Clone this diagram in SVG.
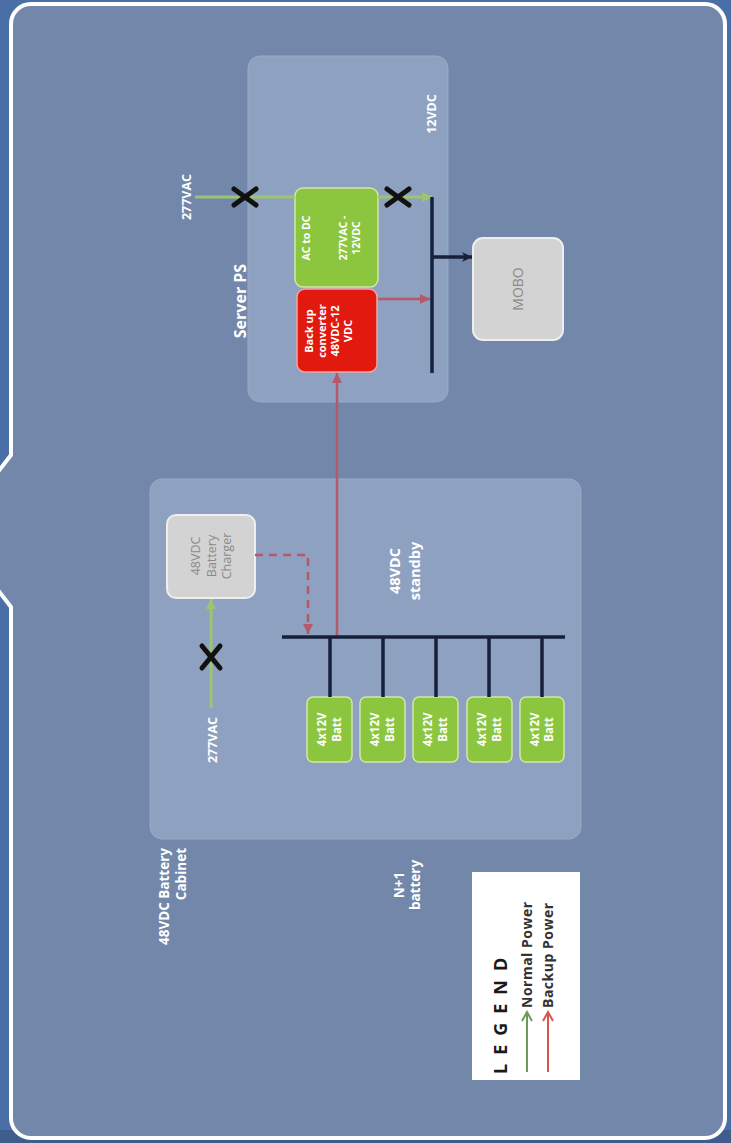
<svg xmlns="http://www.w3.org/2000/svg" width="731" height="1143" viewBox="0 0 731 1143">
<defs>
<style>
.t{font-family:"Open Sans","Liberation Sans",sans-serif;font-weight:bold;fill:#ffffff}
.g{font-family:"Open Sans","Liberation Sans",sans-serif;fill:#8a8a8a}
.panel{fill:#8fa1c1;stroke:#98aac8;stroke-width:1}
.grn{fill:#8cc63f;stroke:#cfe8a8;stroke-width:1.5}
.gray{fill:#d3d3d3;stroke:#eeeeee;stroke-width:2}
.bus{stroke:#17203a;stroke-width:3.5;fill:none}
.xm{stroke:#111111;stroke-width:5;fill:none;stroke-linecap:round}
.norm{stroke:#9ccc65;stroke-width:3;fill:none;opacity:0.9}
.back{stroke:#b35a6a;stroke-width:2.5;fill:none}
</style>
<marker id="ab" markerUnits="userSpaceOnUse" markerWidth="12" markerHeight="12" refX="10" refY="6" orient="auto"><path d="M0,1 L10,6 L0,11 L3,6 Z" fill="#17203a"/></marker>
<marker id="ag" markerUnits="userSpaceOnUse" markerWidth="12" markerHeight="12" refX="10" refY="6" orient="auto"><path d="M0,1 L10,6 L0,11 Z" fill="#9ccc65"/></marker>
<marker id="ar" markerUnits="userSpaceOnUse" markerWidth="12" markerHeight="12" refX="10" refY="6" orient="auto"><path d="M0,1 L10,6 L0,11 Z" fill="#b35a6a"/></marker>
<marker id="lg" markerUnits="userSpaceOnUse" markerWidth="12" markerHeight="12" refX="10" refY="6" orient="auto"><path d="M1,1 L10,6 L1,11" fill="none" stroke="#6f9a5a" stroke-width="2"/></marker>
<marker id="lr" markerUnits="userSpaceOnUse" markerWidth="12" markerHeight="12" refX="10" refY="6" orient="auto"><path d="M1,1 L10,6 L1,11" fill="none" stroke="#d9534f" stroke-width="2"/></marker>
</defs>
<rect x="0" y="0" width="731" height="1143" fill="#4a6fa6"/>
<rect x="0" y="1130" width="731" height="13" fill="#3e5d8c"/>
<path d="M31,4 L705,4 A20,20 0 0 1 725,24 L725,1118 A20,20 0 0 1 705,1138 L31,1138 A20,20 0 0 1 11,1118 L11,607 L-6,585 L-6,477 L11,455 L11,24 A20,20 0 0 1 31,4 Z" fill="#7287aa" stroke="#ffffff" stroke-width="4"/>

<g id="server-ps">
<rect class="panel" x="248" y="56" width="200" height="346" rx="12"/>
<text class="t" font-size="16" transform="translate(240,301) rotate(-90)" text-anchor="middle" y="5.5">Server PS</text>
<text class="t" font-size="12.5" transform="translate(431,114) rotate(-90)" text-anchor="middle" y="4.5">12VDC</text>
</g>
<g id="ac-dc">
<rect class="grn" x="295" y="188" width="83" height="99" rx="8"/>
<text class="t" font-size="10.5" font-weight="normal" transform="translate(336,238) rotate(-90)" text-anchor="middle"><tspan x="0" y="-26">AC to DC</tspan><tspan x="0" y="11">277VAC -</tspan><tspan x="0" y="24">12VDC</tspan></text>
</g>
<g id="backup-converter">
<rect x="297" y="289" width="80" height="83" rx="8" fill="#e2190e" stroke="#f3a6a0" stroke-width="1.5"/>
<text class="t" font-size="11" transform="translate(337,331) rotate(-90)" text-anchor="middle"><tspan x="0" y="-24">Back up</tspan><tspan x="0" y="-11">converter</tspan><tspan x="0" y="2">48VDC-12</tspan><tspan x="0" y="15">VDC</tspan></text>
</g>
<g id="mobo">
<rect class="gray" x="473" y="238" width="90" height="102" rx="10"/>
<text class="g" font-size="14" transform="translate(518,289) rotate(-90)" text-anchor="middle" y="5">MOBO</text>
</g>
<g id="ac-in-server">
<text class="t" font-size="12.5" transform="translate(186,197) rotate(-90)" text-anchor="middle" y="4.5">277VAC</text>
</g>

<g id="battery-cabinet">
<rect class="panel" x="150" y="479" width="431" height="360" rx="12"/>
<text class="t" font-size="13.5" transform="translate(173,848) rotate(-90)" text-anchor="end"><tspan x="0" y="-4">48VDC Battery</tspan><tspan x="0" y="13">Cabinet</tspan></text>
<text class="t" font-size="14.5" transform="translate(405,571) rotate(-90)" text-anchor="middle"><tspan x="0" y="-5">48VDC</tspan><tspan x="0" y="15">standby</tspan></text>
</g>
<g id="charger">
<rect class="gray" x="167" y="515" width="88" height="83" rx="9"/>
<text class="g" font-size="12.5" transform="translate(211,556) rotate(-90)" text-anchor="middle"><tspan x="0" y="-11">48VDC</tspan><tspan x="0" y="4.5">Battery</tspan><tspan x="0" y="20">Charger</tspan></text>
</g>
<g id="ac-in-cabinet">
<text class="t" font-size="12.5" transform="translate(212,740) rotate(-90)" text-anchor="middle" y="4.5">277VAC</text>
</g>
<g id="batt1"><rect class="grn" x="307" y="697" width="45" height="65" rx="6"/><text class="t" font-size="11.5" transform="translate(329.5,729.5) rotate(-90)" text-anchor="middle"><tspan x="0" y="-3.5">4x12V</tspan><tspan x="0" y="11">Batt</tspan></text></g>
<g id="batt2"><rect class="grn" x="360" y="697" width="45" height="65" rx="6"/><text class="t" font-size="11.5" transform="translate(382.5,729.5) rotate(-90)" text-anchor="middle"><tspan x="0" y="-3.5">4x12V</tspan><tspan x="0" y="11">Batt</tspan></text></g>
<g id="batt3"><rect class="grn" x="413" y="697" width="45" height="65" rx="6"/><text class="t" font-size="11.5" transform="translate(435.5,729.5) rotate(-90)" text-anchor="middle"><tspan x="0" y="-3.5">4x12V</tspan><tspan x="0" y="11">Batt</tspan></text></g>
<g id="batt4"><rect class="grn" x="467" y="697" width="45" height="65" rx="6"/><text class="t" font-size="11.5" transform="translate(489.5,729.5) rotate(-90)" text-anchor="middle"><tspan x="0" y="-3.5">4x12V</tspan><tspan x="0" y="11">Batt</tspan></text></g>
<g id="batt5"><rect class="grn" x="520" y="697" width="44" height="65" rx="6"/><text class="t" font-size="11.5" transform="translate(542,729.5) rotate(-90)" text-anchor="middle"><tspan x="0" y="-3.5">4x12V</tspan><tspan x="0" y="11">Batt</tspan></text></g>
<g id="n1-label">
<text class="t" font-size="13.5" font-weight="normal" transform="translate(407,885) rotate(-90)" text-anchor="middle"><tspan x="0" y="-3.5">N+1</tspan><tspan x="0" y="12.5">battery</tspan></text>
</g>

<g id="connectors">
<line class="norm" x1="195" y1="197" x2="295" y2="197"/>
<line class="norm" x1="378" y1="197" x2="432" y2="197" marker-end="url(#ag)"/>
<path class="bus" d="M432,197 L432,373"/>
<line class="bus" x1="432" y1="257" x2="472" y2="257" stroke-width="3" marker-end="url(#ab)"/>
<line class="back" x1="378" y1="299" x2="430" y2="299" marker-end="url(#ar)"/>
<line class="back" x1="337" y1="637" x2="337" y2="373" marker-end="url(#ar)"/>
<path class="back" d="M255,555 L308,555 L308,634" stroke-dasharray="8,6" marker-end="url(#ar)"/>
<line class="bus" x1="282" y1="637" x2="565" y2="637"/>
<path class="bus" stroke-width="3" d="M330,637 V697 M383,637 V697 M436,637 V697 M489,637 V697 M542,637 V697"/>
<line class="norm" x1="211" y1="708" x2="211" y2="599" marker-end="url(#ag)"/>
<path class="xm" d="M234,189 L256,205 M234,205 L256,189"/>
<path class="xm" d="M387,189 L409,205 M387,205 L409,189"/>
<path class="xm" d="M202,646 L220,668 M220,646 L202,668"/>
</g>

<g id="legend">
<rect x="472" y="872" width="108" height="208" fill="#ffffff"/>
<text font-family="'Open Sans','Liberation Sans',sans-serif" font-weight="bold" font-size="18" fill="#1a1a1a" letter-spacing="9" transform="translate(500,1074) rotate(-90)" y="6.5">LEGEND</text>
<line x1="527" y1="1072" x2="527" y2="1012" stroke="#6f9a5a" stroke-width="2" marker-end="url(#lg)"/>
<line x1="548" y1="1072" x2="548" y2="1012" stroke="#d9534f" stroke-width="2" marker-end="url(#lr)"/>
<text font-family="'Open Sans','Liberation Sans',sans-serif" font-weight="bold" font-size="14" letter-spacing="0.5" fill="#333333" transform="translate(527,1008) rotate(-90)" y="5">Normal  Power</text>
<text font-family="'Open Sans','Liberation Sans',sans-serif" font-weight="bold" font-size="14" letter-spacing="0.5" fill="#333333" transform="translate(548,1008) rotate(-90)" y="5">Backup  Power</text>
</g>
</svg>
